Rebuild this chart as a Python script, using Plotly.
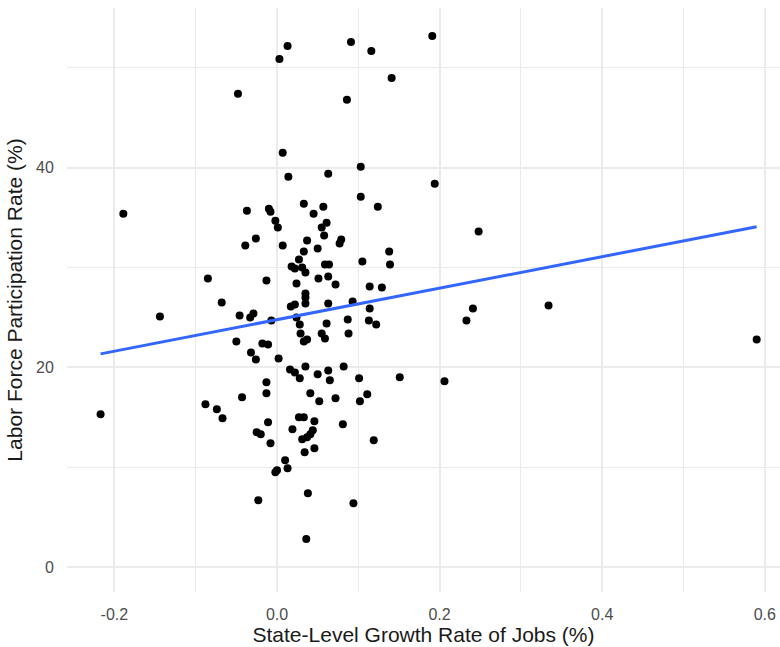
import numpy as np
import plotly.graph_objects as go

job_growth = [
    0.013, 0.003, 0.091, 0.116, 0.191, 0.141, -0.048, 0.086, 0.007, 0.103,
    0.063, 0.014, 0.103, 0.124, -0.037, -0.010, -0.008, 0.033, 0.057, 0.045,
    -0.002, 0.001, 0.061, 0.055, 0.058, -0.026, -0.039, 0.007, 0.037, 0.079,
    0.077, 0.033, 0.050, 0.105, 0.027, 0.018, 0.022, 0.031, 0.035, 0.059,
    0.064, -0.085, -0.013, 0.024, 0.051, 0.063, 0.072, 0.035, 0.035, 0.035,
    0.017, 0.022, 0.114, 0.129, 0.063, 0.093, 0.114, -0.068, -0.046, -0.033,
    -0.029, -0.007, 0.024, 0.028, 0.029, 0.061, 0.087, 0.113, 0.122, 0.055,
    0.059, 0.088, 0.033, 0.037, -0.050, -0.018, -0.011, -0.032, -0.026, 0.002,
    0.016, 0.022, 0.028, 0.035, 0.050, 0.063, 0.065, 0.082, 0.101, -0.013,
    -0.013, -0.043, -0.088, -0.074, -0.067, 0.041, 0.052, 0.072, 0.102, 0.111,
    0.119, -0.011, 0.027, 0.033, 0.046, 0.081, 0.019, 0.044, 0.041, 0.037,
    0.031, -0.025, -0.020, -0.008, 0.034, 0.046, 0.010, 0.013, -0.002, 0.000,
    0.038, -0.023, 0.094, 0.036, 0.194, 0.248, 0.138, 0.139, 0.241, 0.233,
    0.334, 0.151, 0.206, -0.189, -0.144, -0.217, 0.590,
]

participation = [
    52.2, 50.9, 52.6, 51.7, 53.2, 49.0, 47.4, 46.8, 41.5, 40.1,
    39.4, 39.1, 37.1, 36.1, 35.7, 35.9, 35.6, 36.4, 36.1, 35.4,
    34.7, 34.0, 34.5, 34.0, 33.2, 32.9, 32.2, 32.2, 32.7, 32.8,
    32.4, 31.6, 31.9, 30.6, 30.8, 30.1, 29.9, 30.0, 29.5, 30.3,
    30.3, 28.9, 28.7, 28.4, 28.9, 29.1, 28.3, 27.4, 27.0, 26.4,
    26.1, 26.3, 28.1, 28.0, 26.4, 26.6, 25.9, 26.5, 25.2, 25.0,
    25.4, 24.7, 25.0, 24.3, 23.4, 24.4, 24.8, 24.7, 24.3, 23.4,
    22.9, 23.4, 22.6, 22.8, 22.6, 22.4, 22.3, 21.5, 20.8, 20.9,
    19.8, 19.5, 18.9, 20.1, 19.3, 19.7, 18.7, 20.1, 18.9, 18.5,
    17.4, 17.0, 16.3, 15.8, 14.9, 17.4, 16.6, 16.9, 16.6, 17.3,
    12.7, 14.5, 15.0, 15.0, 14.6, 14.3, 13.8, 13.7, 13.3, 13.0,
    12.8, 13.5, 13.3, 12.4, 11.5, 11.9, 10.7, 9.9, 9.5, 9.7,
    7.4, 6.7, 6.4, 2.8, 38.4, 33.6, 31.6, 30.3, 25.9, 24.7,
    26.2, 19.0, 18.6, 35.4, 25.1, 15.3, 22.8,
]

x_ticks = [-0.2, 0.0, 0.2, 0.4, 0.6]
x_tick_labels = ["-0.2", "0.0", "0.2", "0.4", "0.6"]
y_ticks = [0, 20, 40]
y_tick_labels = ["0", "20", "40"]

xa = np.array(job_growth)
ya = np.array(participation)
slope, intercept = np.polyfit(xa, ya, 1)
fit_x = np.array([xa.min(), xa.max()])
fit_y = intercept + slope * fit_x

fig = go.Figure()
fig.add_trace(go.Scatter(
    x=job_growth, y=participation, mode="markers",
    marker=dict(color="black", size=8, line=dict(width=0)),
    showlegend=False, hoverinfo="skip",
))
fig.add_trace(go.Scatter(
    x=fit_x, y=fit_y, mode="lines",
    line=dict(color="#3366FF", width=3),
    showlegend=False, hoverinfo="skip",
))

grid_major = "#EBEBEB"
fig.update_layout(
    width=780, height=647,
    margin=dict(l=67, r=0, t=8, b=55),
    paper_bgcolor="white", plot_bgcolor="white",
    font=dict(family="Liberation Sans, Arial, sans-serif", size=16, color="#4D4D4D"),
    xaxis=dict(
        range=[-0.2583, 0.6187],
        tickvals=x_ticks, ticktext=x_tick_labels,
        showgrid=True, gridcolor=grid_major, gridwidth=1.5,
        minor=dict(dtick=0.1, tick0=-0.1, showgrid=True, gridcolor=grid_major, gridwidth=0.8, ticks=""),
        zeroline=False, showline=False,
        ticks="outside", ticklen=8, tickcolor="rgba(0,0,0,0)",
        tickfont=dict(size=16, color="#4D4D4D"),
        title=dict(text="State-Level Growth Rate of Jobs (%)",
                   font=dict(size=21, color="#1A1A1A"), standoff=3),
    ),
    yaxis=dict(
        range=[-2.5, 56.0],
        tickvals=y_ticks, ticktext=y_tick_labels,
        showgrid=True, gridcolor=grid_major, gridwidth=1.5,
        minor=dict(dtick=10, tick0=10, showgrid=True, gridcolor=grid_major, gridwidth=0.8, ticks=""),
        zeroline=False, showline=False,
        ticks="outside", ticklen=9, tickcolor="rgba(0,0,0,0)",
        tickfont=dict(size=16, color="#4D4D4D"),
        title=dict(text="Labor Force Participation Rate (%)",
                   font=dict(size=21, color="#1A1A1A"), standoff=7),
    ),
)

fig.write_html("out.html")
